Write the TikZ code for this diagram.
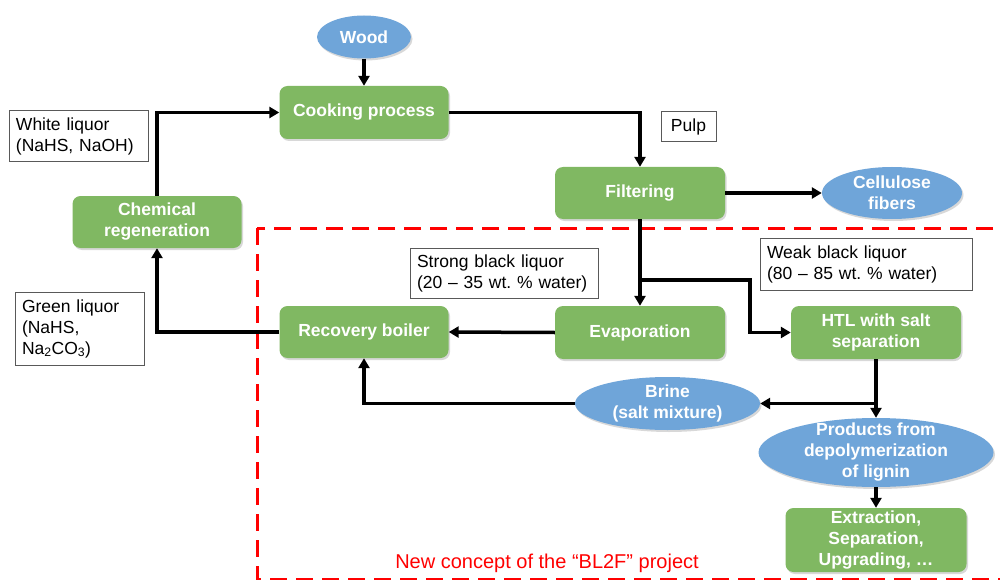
\documentclass[tikz,border=0pt]{standalone}
\usepackage{fontspec}
\setmainfont{Liberation Sans}
\usetikzlibrary{shapes.geometric,arrows.meta,shadows,calc}
\definecolor{boxgreen}{HTML}{80B862}
\definecolor{ellblue}{HTML}{6FA5D9}
\definecolor{conceptred}{HTML}{FF0000}
\frenchspacing
\hyphenpenalty=10000
\begin{document}
\begin{tikzpicture}[x=1pt,y=-1pt,
  proc/.style={rectangle, rounded corners=8pt, fill=boxgreen, text=white,
     font=\fontsize{17.5}{21}\selectfont\bfseries, align=center, inner sep=0pt,
     drop shadow={shadow xshift=1.5pt, shadow yshift=-2pt, opacity=0.3}},
  ell/.style={ellipse, fill=ellblue, inner sep=0pt,
     drop shadow={shadow xshift=1.5pt, shadow yshift=-2pt, opacity=0.3}},
  elltext/.style={text=white, font=\fontsize{17.5}{21}\selectfont\bfseries, align=center, inner sep=0pt},
  tbox/.style={draw=black!65, line width=1pt, fill=white, inner xsep=7pt, inner ysep=0pt,
     font=\fontsize{17.5}{21}\selectfont\frenchspacing, align=left},
  arr/.style={line width=3.5pt, -{Triangle[length=10pt,width=11pt]}},
]
\useasboundingbox (0,0) rectangle (1000,580);
\fill[white] (0,0) rectangle (1000,580);

% red dashed concept frame
\draw[conceptred, line width=3pt, dash pattern=on 17pt off 9pt] (257,228) rectangle (1015,579);
\node[font=\fontsize{20}{24}\selectfont, text=conceptred] (concept) at (547,563) {New concept of the “BL2F” project};

% process boxes
\node[proc, minimum width=169pt, minimum height=53pt] (cook) at (364,112.5) {Cooking process};
\node[proc, minimum width=169pt, minimum height=52pt] (chem) at (157,222) {Chemical\\regeneration};
\node[proc, minimum width=170pt, minimum height=52pt] (filt) at (640,193) {Filtering};
\node[proc, minimum width=169pt, minimum height=52pt] (recov) at (364,332) {Recovery boiler};
\node[proc, minimum width=170pt, minimum height=53pt] (evap) at (640,332.5) {Evaporation};
\node[proc, minimum width=170pt, minimum height=53pt] (htl) at (876,332.5) {HTL with salt\\separation};
\node[proc, minimum width=181pt, minimum height=64pt] (extr) at (876,540) {Extraction,\\Separation,\\Upgrading, …};

% ellipses
\node[ell, minimum width=94pt, minimum height=43pt] (wood) at (364,37) {};
\node[elltext] at (wood) {Wood};
\node[ell, minimum width=140pt, minimum height=52pt] (cell) at (892,193) {};
\node[elltext] at (cell) {Cellulose\\fibers};
\node[ell, minimum width=185pt, minimum height=53pt] (brine) at (667.5,403.5) {};
\node[elltext] at (brine) {Brine\\(salt mixture)};
\node[ell, minimum width=235pt, minimum height=69pt] (prod) at (876,452.5) {};
\node[elltext] at (prod) {Products from\\depolymerization\\of lignin};

% text boxes
\node[tbox, text width=125pt, minimum height=51pt] (white) at (78.5,136.5) {White liquor\\(NaHS, NaOH)};
\node[tbox, minimum width=55pt, minimum height=30pt, align=center] (pulp) at (688.5,127) {Pulp};
\node[tbox, text width=174pt, minimum height=50pt] (strong) at (504,273) {Strong black liquor\\(20 -- 35 wt. \% water)};
\node[tbox, text width=198pt, minimum height=52pt] (weak) at (866,264) {Weak black liquor\\(80 -- 85 wt. \% water)};
\node[tbox, text width=115pt, minimum height=73pt] (green) at (79.5,328.5) {Green liquor\\(NaHS,\\Na\textsubscript{2}CO\textsubscript{3})};

% connectors
\draw[arr] (wood.south) -- (cook.north);
\draw[arr] (chem.north) |- (cook.west);
\draw[arr] (cook.east) -| (filt.north);
\draw[arr] (filt.east) -- (cell.west);
\draw[arr] (filt.south) -- (evap.north);
\draw[arr] ([yshift=-61pt]filt.south) -| ([xshift=-41pt]htl.west) -- (htl.west);
\draw[arr] (evap.west) -- (recov.east);
\draw[arr] (recov.west) -| (chem.south);
\draw[arr] (htl.south) -- (prod.north);
\draw[arr] (htl.south |- brine.east) -- (brine.east);
\draw[arr] (brine.west) -| (recov.south);
\draw[arr] (prod.south) -- (extr.north);
\end{tikzpicture}
\end{document}
